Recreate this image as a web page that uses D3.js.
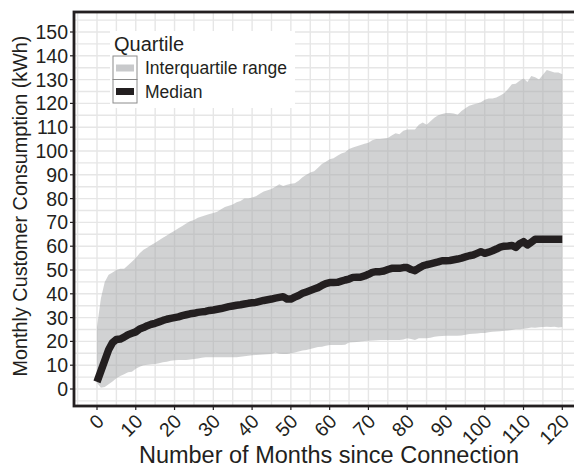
<!DOCTYPE html>
<html>
<head>
<meta charset="utf-8">
<script src="https://cdn.jsdelivr.net/npm/d3@7"></script>
<style>
  body { margin: 0; background: #fff; }
  text { font-family: "Liberation Sans", Arial, Helvetica, sans-serif; fill: #231f20; }
</style>
</head>
<body>
<div id="chart"></div>
<script>
var width = 574;
var height = 468;

// months since connection (0..120)
var months = d3.range(0, 121);

// 75th percentile
var upper = [26, 38, 45, 48, 49, 50, 50.5, 50.5, 52, 53.5,
  55, 57, 58.5, 59.5, 60.5, 61.5, 62.5, 63.5, 64.5, 65.5,
  66.5, 67.5, 68.5, 69.5, 70.5, 71, 72, 72.5, 73, 73.5,
  74, 74.5, 75.5, 76.5, 77, 77.5, 78.5, 79, 80, 80,
  80.5, 81, 82, 83, 83.5, 84, 85, 86, 85.3, 85.8,
  86.2, 86.5, 87.5, 89, 90, 91, 91.5, 93, 94.5, 95.5,
  96.5, 97, 98, 99, 99.5, 100.8, 101.5, 102, 102.5, 103,
  103.5, 104.5, 105, 105, 105.3, 105.5, 106.5, 107.5, 107, 108.5,
  109, 109, 109, 111, 112, 111, 112.5, 114, 115, 115.5,
  116, 116, 115.8, 115.2, 116.8, 118, 119, 119.5, 120, 120.5,
  121.5, 122.1, 122.1, 122.5, 123.3, 124.3, 126, 128, 128.3, 129.5,
  130.5, 129, 131.5, 131, 130, 132, 134, 133.5, 133, 133,
  132.3];

// 25th percentile
var lower = [2.5, 0.5, 0.8, 2, 3.2, 4.5, 5.5, 6.2, 7, 7.3,
  8.5, 9.4, 10, 10.2, 10.4, 10.5, 10.8, 11.2, 11.5, 11.9,
  12.1, 12.2, 12.2, 12.2, 12.4, 12.6, 12.8, 13.1, 13.3, 13.3,
  13.3, 13.3, 13.3, 13.3, 13.3, 13.3, 13.3, 13.5, 13.8, 14,
  14.2, 14.3, 14.4, 14.5, 14.6, 14.7, 15.3, 14.8, 14.7, 14.7,
  15, 15.3, 15.8, 16.2, 16.4, 16.8, 17.2, 17.6, 17.8, 18.2,
  18.5, 18.5, 18.5, 18.5, 18.6, 19.5, 19.6, 19.8, 20, 20.2,
  20.3, 20.4, 20.5, 20.6, 20.6, 20.6, 20.6, 20.6, 20.6, 20.8,
  21.3, 21, 20.6, 21.3, 21.3, 21.3, 21.5, 22, 22.2, 22.3,
  22.4, 22.4, 22.4, 22.4, 22.5, 22.8, 23.1, 23.2, 23.3, 23.5,
  23.5, 23.8, 24.1, 24.2, 24.3, 24.5, 24.6, 24.8, 25.1, 25.1,
  25.3, 25.5, 25.8, 25.7, 25.9, 26, 26.2, 26, 26.2, 25.8,
  26];

// median
var median = [3, 7.5, 12, 16.5, 19.5, 20.8, 21, 21.8, 22.8, 23.4,
  24, 25.2, 25.8, 26.6, 27.2, 27.6, 28.2, 28.8, 29.3, 29.7,
  30, 30.3, 30.8, 31.2, 31.6, 31.8, 32.2, 32.4, 32.6, 33,
  33.2, 33.5, 33.8, 34.2, 34.6, 34.9, 35.2, 35.4, 35.7, 36,
  36.2, 36.4, 36.8, 37.2, 37.5, 37.8, 38.2, 38.5, 38.8, 37.8,
  37.8, 38.6, 39.3, 40.2, 40.8, 41.4, 42, 42.6, 43.5, 44.3,
  44.7, 44.7, 44.8, 45.3, 45.8, 46.2, 46.9, 47, 47, 47.5,
  48.2, 49, 49.3, 49.3, 49.6, 50.2, 50.7, 50.7, 50.7, 51,
  51, 50.2, 49.7, 50.8, 51.7, 52.2, 52.6, 53, 53.4, 53.9,
  53.9, 54, 54.3, 54.6, 55, 55.5, 56, 56.3, 57, 57.7,
  57, 57.5, 58.1, 58.8, 59.6, 60, 60.1, 60.3, 59.5, 61,
  61.9, 60.5, 61.7, 62.9, 62.9, 62.9, 62.9, 62.9, 62.9, 62.9,
  62.9];

var xTicks = d3.range(0, 121, 10);
var yTicks = d3.range(0, 151, 10);
var legendLabels = ["Interquartile range", "Median"];

var data = months.map(function(m, i) {
    return {m: m, lo: lower[i], hi: upper[i], med: median[i]};
});

var x = d3.scaleLinear().domain([0, 120]).range([97, 562.3]);
var y = d3.scaleLinear().domain([0, 150]).range([389, 32]);

var panelLeft = 74, panelTop = 12, panelBottom = 406;
var panelRight = x(126);

var svg = d3.select("#chart")
            .append("svg")
            .attr("width", width)
            .attr("height", height);

svg.append("rect").attr("width", width).attr("height", height).attr("fill", "#fff");

// grid, every 5 units
var grid = svg.append("g").attr("stroke", "#e6e6e6").attr("stroke-width", 1.4);
grid.selectAll(".gx")
    .data(d3.range(-5, 126, 5))
    .enter().append("line")
    .attr("x1", function(d) { return x(d); })
    .attr("x2", function(d) { return x(d); })
    .attr("y1", panelTop)
    .attr("y2", panelBottom);
grid.selectAll(".gy")
    .data(d3.range(-5, 156, 5))
    .enter().append("line")
    .attr("y1", function(d) { return y(d); })
    .attr("y2", function(d) { return y(d); })
    .attr("x1", panelLeft)
    .attr("x2", panelRight);

// interquartile band
var area = d3.area()
    .x(function(d) { return x(d.m); })
    .y0(function(d) { return y(d.lo); })
    .y1(function(d) { return y(d.hi); });

svg.append("path")
    .datum(data)
    .attr("d", area)
    .attr("fill", "#a6a8ab")
    .attr("fill-opacity", 0.52);

// median line
var line = d3.line()
    .x(function(d) { return x(d.m); })
    .y(function(d) { return y(d.med); });

svg.append("path")
    .datum(data)
    .attr("d", line)
    .attr("fill", "none")
    .attr("stroke", "#231f20")
    .attr("stroke-width", 7.5)
    .attr("stroke-linejoin", "round");

// panel border (right edge falls outside the window)
svg.append("rect")
    .attr("x", panelLeft)
    .attr("y", panelTop)
    .attr("width", panelRight - panelLeft)
    .attr("height", panelBottom - panelTop)
    .attr("fill", "none")
    .attr("stroke", "#231f20")
    .attr("stroke-width", 2.8);

// y axis
var yAxis = svg.append("g");
yAxis.selectAll("line")
    .data(yTicks)
    .enter().append("line")
    .attr("x1", panelLeft - 4).attr("x2", panelLeft)
    .attr("y1", function(d) { return y(d); })
    .attr("y2", function(d) { return y(d); })
    .attr("stroke", "#231f20").attr("stroke-width", 1.2);
yAxis.selectAll("text")
    .data(yTicks)
    .enter().append("text")
    .attr("x", panelLeft - 6)
    .attr("y", function(d) { return y(d); })
    .attr("dy", "0.36em")
    .attr("text-anchor", "end")
    .style("font-size", "19.5px")
    .text(function(d) { return d; });

// x axis
var xAxis = svg.append("g");
xAxis.selectAll("line")
    .data(xTicks)
    .enter().append("line")
    .attr("x1", function(d) { return x(d); })
    .attr("x2", function(d) { return x(d); })
    .attr("y1", panelBottom).attr("y2", panelBottom + 4)
    .attr("stroke", "#231f20").attr("stroke-width", 1.2);
xAxis.selectAll("text")
    .data(xTicks)
    .enter().append("text")
    .attr("transform", function(d) { return "translate(" + (x(d) - 1.5) + "," + (panelBottom + 7) + ") rotate(-45)"; })
    .attr("text-anchor", "end")
    .attr("dy", "0.7em")
    .style("font-size", "19.5px")
    .text(function(d) { return d; });

// axis titles
svg.append("text")
    .attr("x", 329)
    .attr("y", 463)
    .attr("text-anchor", "middle")
    .style("font-size", "23.5px")
    .text("Number of Months since Connection");

svg.append("text")
    .attr("transform", "translate(27,206) rotate(-90)")
    .attr("text-anchor", "middle")
    .style("font-size", "19.8px")
    .text("Monthly Customer Consumption (kWh)");

// legend
var legend = svg.append("g");
legend.append("rect")
    .attr("x", 110).attr("y", 31)
    .attr("width", 185).attr("height", 77)
    .attr("fill", "#fff");
legend.append("text")
    .attr("x", 114).attr("y", 51)
    .style("font-size", "20px")
    .text("Quartile");

var keys = legend.selectAll(".key")
    .data(legendLabels)
    .enter().append("g")
    .attr("transform", function(d, i) { return "translate(113," + (56 + i * 23.5) + ")"; });
keys.append("rect")
    .attr("width", 24).attr("height", 23.5)
    .attr("fill", "#fff")
    .attr("stroke", "#8c8c8c").attr("stroke-width", 1);
keys.append("rect")
    .attr("x", 3).attr("y", 8.5)
    .attr("width", 18).attr("height", 7)
    .attr("fill", function(d, i) { return i == 0 ? "#a6a8ab" : "#231f20"; })
    .attr("fill-opacity", function(d, i) { return i == 0 ? 0.62 : 1; });
keys.append("text")
    .attr("x", 32).attr("y", 18)
    .style("font-size", "17.5px")
    .text(function(d) { return d; });
</script>
</body>
</html>
